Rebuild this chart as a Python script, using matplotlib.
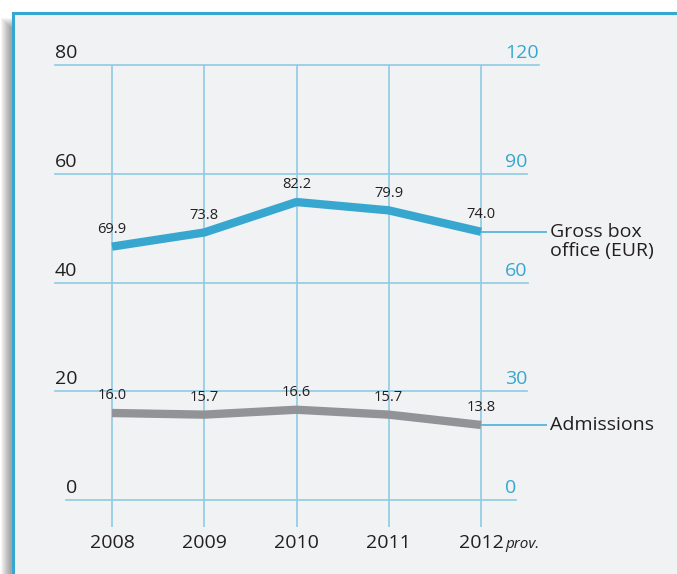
import numpy as np
import matplotlib
matplotlib.use("Agg")
import matplotlib.pyplot as plt
import matplotlib.transforms as mtrans
from matplotlib.patches import Rectangle
from matplotlib.lines import Line2D

years = ["2008", "2009", "2010", "2011", "2012"]
gross_box_office = [69.9, 73.8, 82.2, 79.9, 74.0]   # right scale
admissions = [16.0, 15.7, 16.6, 15.7, 13.8]         # left scale
left_ticks = [0, 20, 40, 60, 80]
right_ticks = [0, 30, 60, 90, 120]
gross_label = "Gross box\noffice (EUR)"
adm_label = "Admissions"

W, H = 677, 574
plt.rcParams['font.family'] = ['Open Sans', 'DejaVu Sans']

dark = '#231f20'
blue = '#38a7cf'
grid = '#8ecbe4'
gray = '#929396'

fig = plt.figure(figsize=(W / 100, H / 100), dpi=100)
fig.patch.set_facecolor('white')

def fx(px):
    return px / W

def fy(py):
    return 1 - py / H

# soft shadow on the left of the panel
for i in range(10):
    fig.patches.append(Rectangle((fx(1 + i), 0), fx(12 - i), fy(18 + i), transform=fig.transFigure,
                                 facecolor='black', alpha=0.04, lw=0, zorder=-3))
# panel with blue border
fig.patches.append(Rectangle((fx(12.5), fy(H + 10)), fx(W), (H + 10 - 12.5) / H, transform=fig.transFigure,
                             facecolor='#f0f2f4', edgecolor='#36a8d0', lw=2.2, zorder=-2))

# plot area: x 112..481 px, y 500..65 px
ax = fig.add_axes([112 / W, (H - 500) / H, 369 / W, 435 / H])
ax.set_xlim(0, 4)
ax.set_ylim(0, 80)
ax.axis('off')
tw = ax.twinx()
tw.set_ylim(0, 120)
tw.axis('off')

ppx = 369 / 4.0     # pixels per year
ppy = 435 / 80.0    # pixels per left unit

def xd(px):
    return (px - 112) / ppx

def yd(py):
    return (500 - py) / ppy

bl = mtrans.blended_transform_factory(fig.transFigure, ax.transData)
br = mtrans.blended_transform_factory(fig.transFigure, tw.transData)

pairs = []
for lt, rt in zip(left_ticks, right_ticks):
    t1 = ax.text(fx(77), lt + 3 / ppy, str(lt), transform=bl, ha='right', va='bottom',
                 fontsize=14, color=dark)
    t2 = tw.text(fx(505), rt + 3 / (435 / 120), str(rt), transform=br, ha='left', va='bottom',
                 fontsize=14, color=blue)
    pairs.append((lt, t1, t2))

fig.canvas.draw()
r = fig.canvas.get_renderer()
for lt, t1, t2 in pairs:
    x0 = t1.get_window_extent(r).x0 / W
    x1 = t2.get_window_extent(r).x1 / W
    ax.add_line(Line2D([x0, x1], [lt, lt], transform=bl, color=grid, lw=1.2, clip_on=False, zorder=1))

x = np.arange(len(years))
ax.vlines(x, yd(527), 80, color=grid, lw=1.2, clip_on=False, zorder=1.5)

ax.plot(x, admissions, color=gray, lw=6, solid_capstyle='butt', solid_joinstyle='round',
        clip_on=False, zorder=3)
tw.plot(x, gross_box_office, color=blue, lw=6, solid_capstyle='butt', solid_joinstyle='round',
        clip_on=False, zorder=3)

for i, v in enumerate(admissions):
    ax.annotate(f"{v:.1f}", (i, v), xytext=(0, 7), textcoords='offset points',
                ha='center', va='bottom', fontsize=10.5, color=dark)
for i, v in enumerate(gross_box_office):
    tw.annotate(f"{v:.1f}", (i, v), xytext=(0, 7), textcoords='offset points',
                ha='center', va='bottom', fontsize=10.5, color=dark)

# leader lines and series names
ax.plot([4, xd(546)], [admissions[-1]] * 2, color='#62b9df', lw=1.4, clip_on=False, zorder=2)
tw.plot([4, xd(546)], [gross_box_office[-1]] * 2, color='#62b9df', lw=1.4, clip_on=False, zorder=2)
ax.text(xd(550), admissions[-1], adm_label, ha='left', va='center', fontsize=14, color=dark)
tw.text(xd(550), gross_box_office[-1] - 10 / (435 / 120), gross_label, ha='left', va='center',
        fontsize=14, color=dark, linespacing=1.05)

for i, yr in enumerate(years):
    ax.text(i, yd(548), yr, ha='center', va='baseline', fontsize=14, color=dark)
ax.text(xd(505), yd(548), "prov.", ha='left', va='baseline', fontsize=11, style='italic', color=dark)

fig.savefig('out.png', dpi=100)
